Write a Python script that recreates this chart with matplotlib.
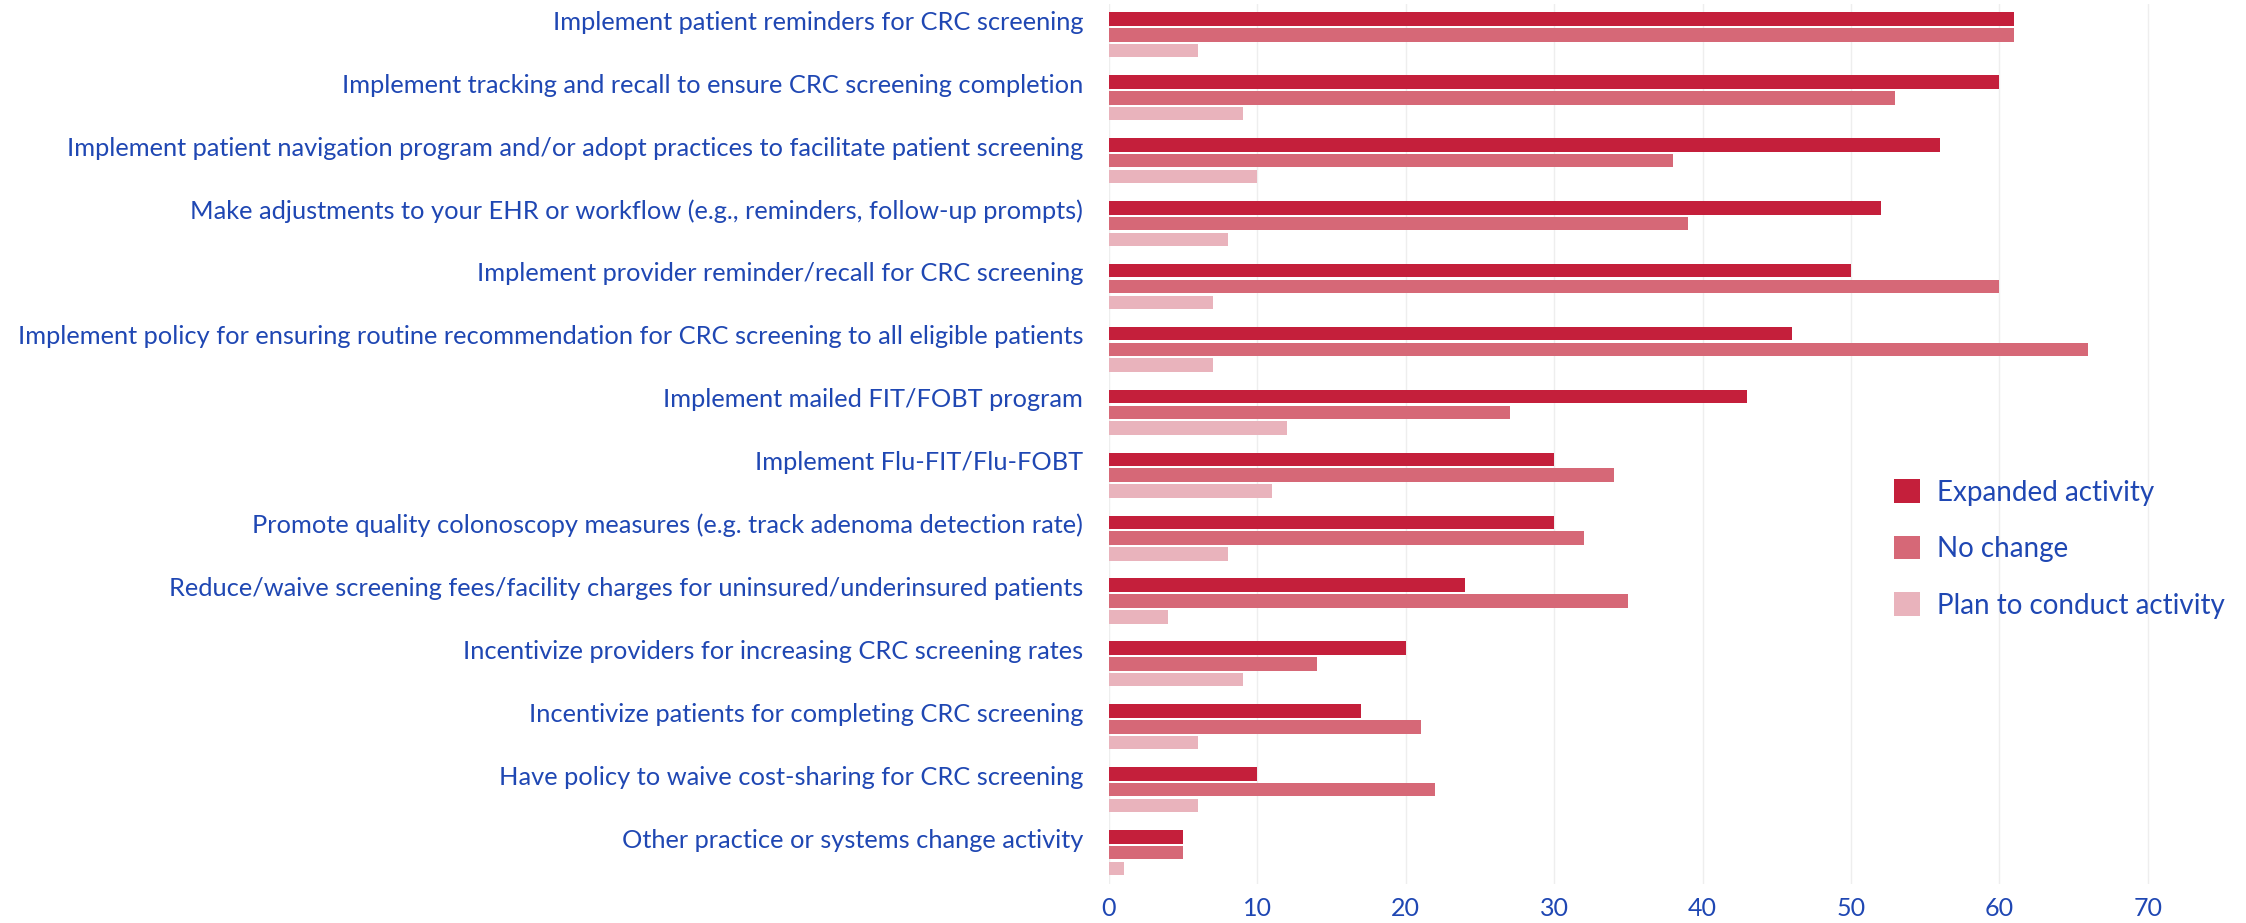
import matplotlib
matplotlib.use("Agg")
import matplotlib.pyplot as plt
import numpy as np

categories = [
    "Implement patient reminders for CRC screening",
    "Implement tracking and recall to ensure CRC screening completion",
    "Implement patient navigation program and/or adopt practices to facilitate patient screening",
    "Make adjustments to your EHR or workflow (e.g., reminders, follow-up prompts)",
    "Implement provider reminder/recall for CRC screening",
    "Implement policy for ensuring routine recommendation for CRC screening to all eligible patients",
    "Implement mailed FIT/FOBT program",
    "Implement Flu-FIT/Flu-FOBT",
    "Promote quality colonoscopy measures (e.g. track adenoma detection rate)",
    "Reduce/waive screening fees/facility charges for uninsured/underinsured patients",
    "Incentivize providers for increasing CRC screening rates",
    "Incentivize patients for completing CRC screening",
    "Have policy to waive cost-sharing for CRC screening",
    "Other practice or systems change activity",
]
expanded = [61, 60, 56, 52, 50, 46, 43, 30, 30, 24, 20, 17, 10, 5]
no_change = [61, 53, 38, 39, 60, 66, 27, 34, 32, 35, 14, 21, 22, 5]
plan = [6, 9, 10, 8, 7, 7, 12, 11, 8, 4, 9, 6, 6, 1]
series_names = ["Expanded activity", "No change", "Plan to conduct activity"]
x_ticks = [0, 10, 20, 30, 40, 50, 60, 70]

colors = ["#C41F3B", "#D66877", "#E9B3BC"]
text_color = "#1F47B3"

plt.rcParams['font.family'] = ['Lato', 'DejaVu Sans']

W, H = 2246, 923
fig = plt.figure(figsize=(W / 100, H / 100), dpi=100)
left = 1109 / W
right = 2162.6 / W
bottom = 1 - 884 / H
top = 1 - 3.5 / H
ax = fig.add_axes([left, bottom, right - left, top - bottom])

y = np.arange(len(categories))
pitch = 0.251
bh = 0.215
handles = []
for k, (vals, name) in enumerate(zip([expanded, no_change, plan], series_names)):
    b = ax.barh(y + (k - 1) * pitch, vals, height=bh, color=colors[k], label=name,
                edgecolor="none", zorder=3)
    handles.append(b)

ax.set_ylim(len(categories) - 0.5, -0.5)
ax.set_xlim(0, 71)
ax.set_xticks(x_ticks)
ax.set_yticks(y - pitch + 0.02)
ax.set_yticklabels(categories)
ax.tick_params(axis="y", length=0, pad=18.5, labelsize=18.3, labelcolor=text_color)
ax.tick_params(axis="x", length=0, pad=9, labelsize=18, labelcolor=text_color)
ax.grid(axis="x", color="#EEEEEE", linewidth=1, zorder=0)
ax.grid(axis="y", visible=False)
for s in ax.spines.values():
    s.set_visible(False)

fig.legend(handles=handles, loc="center left",
           bbox_to_anchor=(1894 / W, 1 - 549 / H), frameon=False,
           fontsize=20, labelcolor=text_color, borderpad=0, borderaxespad=0,
           handlelength=0.935, handleheight=0.935, handletextpad=0.62,
           labelspacing=1.09)

fig.savefig("out.png", dpi=100)
